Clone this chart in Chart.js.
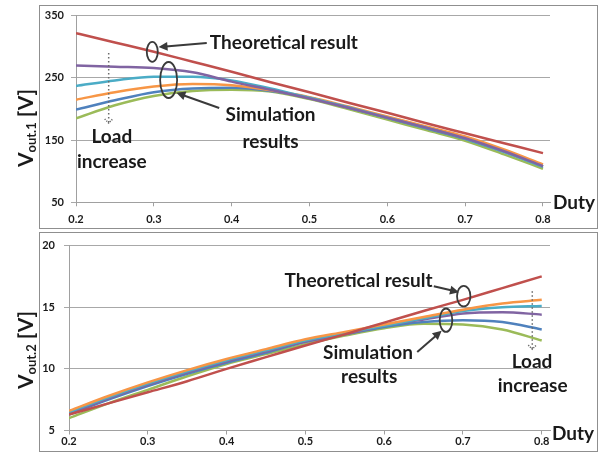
<!DOCTYPE html>
<html>
<head>
<meta charset="utf-8">
<script src="https://cdn.jsdelivr.net/npm/chart.js@4.4.1/dist/chart.umd.min.js"></script>
<style>
  body { margin: 0; background: #fff; }
  #wrap { position: relative; width: 608px; height: 460px; overflow: hidden; }
  .frame { position: absolute; border: 1px solid #8f8f8f; box-sizing: border-box; }
  canvas { position: absolute; left: 0; }
</style>
</head>
<body>
<div id="wrap">
  <div class="frame" style="left:39px;top:5px;width:559px;height:224px"></div>
  <div class="frame" style="left:39px;top:232px;width:559px;height:220px"></div>
  <canvas id="c1" width="608" height="230" style="top:0"></canvas>
  <canvas id="c2" width="608" height="230" style="top:230px"></canvas>
</div>
<script>
// duty ratio samples (shared by both plots)
const duty = [0.2, 0.25, 0.3, 0.35, 0.4, 0.45, 0.5, 0.55, 0.6, 0.65, 0.7, 0.75, 0.8];
const xTicks = [0.2, 0.3, 0.4, 0.5, 0.6, 0.7, 0.8];

// Vout.1 [V]
const v1Theory = [322, 307, 292, 276, 260, 243, 227, 210, 194, 177, 161, 145, 129];
const v1Purple = [270, 268, 266, 259, 244, 231, 217, 202, 186, 170, 153, 132, 108];
const v1Cyan   = [237, 246, 252, 252, 246, 233, 218, 203, 186, 170, 152, 131, 107];
const v1Orange = [215, 227, 236, 240, 238, 230, 219, 204, 188, 172, 156, 135, 111];
const v1Blue   = [199, 214, 227, 233, 234, 229, 218, 202, 186, 169, 152, 131, 108];
const v1Green  = [185, 206, 221, 229, 231, 228, 216, 200, 183, 166, 149, 127, 104];
const v1Ticks = [50, 150, 250, 350];

// Vout.2 [V]
const v2Theory = [6.3, 7.2, 8.1, 9.0, 10.0, 10.95, 11.9, 12.8, 13.75, 14.7, 15.6, 16.55, 17.5];
const v2Orange = [6.6, 7.8, 8.9, 9.9, 10.8, 11.6, 12.4, 13.0, 13.6, 14.2, 14.8, 15.3, 15.6];
const v2Cyan   = [6.5, 7.7, 8.8, 9.8, 10.7, 11.5, 12.3, 12.9, 13.5, 14.1, 14.7, 15.0, 15.1];
const v2Purple = [6.4, 7.6, 8.7, 9.7, 10.6, 11.4, 12.2, 12.8, 13.5, 14.0, 14.5, 14.6, 14.4];
const v2Blue   = [6.3, 7.5, 8.6, 9.6, 10.5, 11.3, 12.2, 12.8, 13.4, 13.8, 13.95, 13.8, 13.2];
const v2Green  = [6.0, 7.2, 8.3, 9.4, 10.4, 11.2, 12.0, 12.7, 13.3, 13.65, 13.6, 13.2, 12.3];
const v2Ticks = [5, 10, 15, 20];

const RED = '#C0504D', PURPLE = '#8064A2', CYAN = '#4BACC6',
      ORANGE = '#F79646', BLUE = '#4F81BD', GREEN = '#9BBB59';
const FONT = 'Lato, "Open Sans", sans-serif';
const INK = '#1a1a1a';

function series(values, color) {
  return {
    data: duty.map((d, i) => ({ x: d, y: values[i] })),
    borderColor: color,
    borderWidth: 2.5,
    pointRadius: 0,
    cubicInterpolationMode: 'monotone',
    fill: false
  };
}

// annotations: arrows, ellipses, labels, axis titles
const notesPlugin = {
  id: 'notes',
  afterDatasetsDraw(chart, args, o) {
    const ctx = chart.ctx;
    const px = d => chart.scales.x.getPixelForValue(d);
    const py = v => chart.scales.y.getPixelForValue(v);
    ctx.save();

    // ellipses
    ctx.strokeStyle = '#3a3a3a';
    ctx.lineWidth = 1.8;
    o.ellipses.forEach(e => {
      ctx.beginPath();
      ctx.ellipse(px(e.x), py(e.y), e.rx, e.ry, 0, 0, Math.PI * 2);
      ctx.stroke();
    });

    // arrows
    o.arrows.forEach(a => {
      const x1 = px(a.from[0]), y1 = py(a.from[1]);
      const x2 = px(a.to[0]), y2 = py(a.to[1]);
      const ang = Math.atan2(y2 - y1, x2 - x1);
      const hl = 9, hw = 4.5;
      ctx.strokeStyle = '#3a3a3a';
      ctx.fillStyle = '#3a3a3a';
      ctx.lineWidth = 2;
      ctx.beginPath();
      ctx.moveTo(x1, y1);
      ctx.lineTo(x2 - Math.cos(ang) * hl * 0.8, y2 - Math.sin(ang) * hl * 0.8);
      ctx.stroke();
      ctx.beginPath();
      ctx.moveTo(x2, y2);
      ctx.lineTo(x2 - Math.cos(ang) * hl - Math.sin(ang) * hw, y2 - Math.sin(ang) * hl + Math.cos(ang) * hw);
      ctx.lineTo(x2 - Math.cos(ang) * hl + Math.sin(ang) * hw, y2 - Math.sin(ang) * hl - Math.cos(ang) * hw);
      ctx.closePath();
      ctx.fill();
    });

    // dotted "load increase" arrow
    const dx = px(o.dotted.x), dy1 = py(o.dotted.y1), dy2 = py(o.dotted.y2);
    ctx.strokeStyle = '#6a6a6a';
    ctx.lineWidth = 1.5;
    ctx.setLineDash([1.5, 2.5]);
    ctx.beginPath();
    ctx.moveTo(dx, dy1);
    ctx.lineTo(dx, dy2);
    ctx.stroke();
    ctx.setLineDash([1.2, 1.2]);
    ctx.beginPath();
    ctx.moveTo(dx - 4, dy2 - 4);
    ctx.lineTo(dx, dy2);
    ctx.lineTo(dx + 4, dy2 - 4);
    ctx.stroke();
    ctx.setLineDash([]);

    // text labels
    ctx.fillStyle = INK;
    ctx.font = 'bold 19px ' + FONT;
    ctx.textBaseline = 'middle';
    o.texts.forEach(t => {
      ctx.textAlign = t.align || 'center';
      ctx.fillText(t.t, px(t.x), py(t.y));
    });

    // "Duty" axis name
    ctx.textAlign = 'left';
    ctx.font = 'bold 19px ' + FONT;
    ctx.fillText('Duty', o.duty.x, o.duty.y);

    // rotated y title with subscript
    const big = 'bold 21px ' + FONT, small = 'bold 13px ' + FONT;
    ctx.font = big;
    const wV = ctx.measureText('V').width, wB = ctx.measureText(' [V]').width;
    ctx.font = small;
    const wS = ctx.measureText(o.sub).width;
    const total = wV + wS + wB;
    ctx.translate(33, o.titleY);
    ctx.rotate(-Math.PI / 2);
    ctx.textAlign = 'left';
    ctx.textBaseline = 'alphabetic';
    let cx = -total / 2;
    ctx.font = big;
    ctx.fillText('V', cx, 0);
    cx += wV;
    ctx.font = small;
    ctx.fillText(o.sub, cx, 3);
    cx += wS;
    ctx.font = big;
    ctx.fillText(' [V]', cx, 0);

    ctx.restore();
  }
};

function makeChart(id, datasets, c) {
  return new Chart(document.getElementById(id), {
    type: 'line',
    data: { datasets },
    plugins: [notesPlugin],
    options: {
      responsive: false,
      animation: false,
      layout: { padding: { left: 0, right: 58, top: c.top, bottom: 0 } },
      plugins: {
        legend: { display: false },
        tooltip: { enabled: false },
        notes: c.notes
      },
      scales: {
        x: {
          type: 'linear',
          min: 0.2,
          max: c.xMax,
          afterBuildTicks: s => { s.ticks = xTicks.map(v => ({ value: v })); },
          afterFit: s => { s.height = c.xHeight; },
          ticks: {
            callback: v => v.toFixed(1),
            color: INK,
            font: { family: FONT, size: 11, weight: 'bold' },
            padding: c.xPad,
            maxRotation: 0
          },
          grid: { drawOnChartArea: false, drawTicks: true, tickLength: 4, color: '#a0a0a0' },
          border: { color: '#a0a0a0' }
        },
        y: {
          min: c.yTicks[0],
          max: c.yTicks[c.yTicks.length - 1],
          afterBuildTicks: s => { s.ticks = c.yTicks.map(v => ({ value: v })); },
          afterFit: s => { s.width = c.yWidth; },
          ticks: {
            color: INK,
            font: { family: FONT, size: 11, weight: 'bold' },
            padding: c.yPad
          },
          grid: { color: '#a8a8a8', tickLength: 5 },
          border: { color: '#a0a0a0' }
        }
      }
    }
  });
}

function draw() {
  makeChart('c1', [
    series(v1Theory, RED),
    series(v1Purple, PURPLE),
    series(v1Cyan, CYAN),
    series(v1Orange, ORANGE),
    series(v1Blue, BLUE),
    series(v1Green, GREEN)
  ], {
    top: 15.7, xHeight: 27.7, yWidth: 76, xMax: 0.809, xPad: 7, yPad: 7, yTicks: v1Ticks,
    notes: {
      sub: 'out.1', titleY: 128,
      duty: { x: 553, y: 203 },
      ellipses: [
        { x: 0.298, y: 292, rx: 5.5, ry: 10 },
        { x: 0.319, y: 246.6, rx: 8.5, ry: 18 }
      ],
      arrows: [
        { from: [0.368, 306], to: [0.306, 299.5] },
        { from: [0.384, 201.6], to: [0.329, 226] }
      ],
      texts: [
        { t: 'Theoretical result', x: 0.372, y: 306, align: 'left' },
        { t: 'Simulation', x: 0.45, y: 190.4 },
        { t: 'results', x: 0.45, y: 147.4 },
        { t: 'Load', x: 0.246, y: 155 },
        { t: 'increase', x: 0.246, y: 114.8 }
      ],
      dotted: { x: 0.242, y1: 290, y2: 177.5 }
    }
  });

  makeChart('c2', [
    series(v2Theory, RED),
    series(v2Orange, ORANGE),
    series(v2Cyan, CYAN),
    series(v2Purple, PURPLE),
    series(v2Blue, BLUE),
    series(v2Green, GREEN)
  ], {
    top: 13.7, xHeight: 29.5, yWidth: 69, xMax: 0.8105, xPad: 0, yPad: 9, yTicks: v2Ticks,
    notes: {
      sub: 'out.2', titleY: 120,
      duty: { x: 552, y: 204 },
      ellipses: [
        { x: 0.701, y: 15.9, rx: 6.7, ry: 10.3 },
        { x: 0.6785, y: 13.95, rx: 6.3, ry: 11.7 }
      ],
      arrows: [
        { from: [0.663, 16.7], to: [0.695, 16.22] },
        { from: [0.642, 11.37], to: [0.673, 13.09] }
      ],
      texts: [
        { t: 'Theoretical result', x: 0.5675, y: 17.1 },
        { t: 'Simulation', x: 0.5795, y: 11.29 },
        { t: 'results', x: 0.581, y: 9.36 },
        { t: 'Load', x: 0.7877, y: 10.55 },
        { t: 'increase', x: 0.7885, y: 8.58 }
      ],
      dotted: { x: 0.788, y1: 16.3, y2: 11.6 }
    }
  });
}

Promise.all([
  document.fonts.load('bold 19px Lato'),
  document.fonts.load('bold 11px Lato')
]).then(draw, draw);
</script>
</body>
</html>
